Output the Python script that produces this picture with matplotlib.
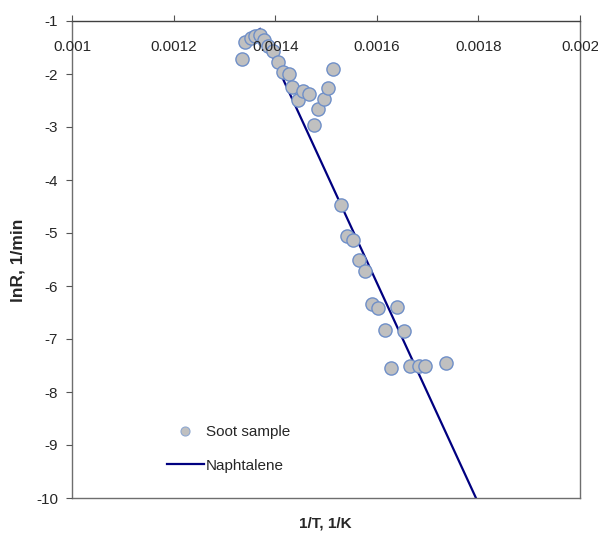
import matplotlib
matplotlib.use("Agg")
import matplotlib.pyplot as plt
from matplotlib.lines import Line2D

plt.rcParams['font.family'] = ['Liberation Sans', 'DejaVu Sans']

# Soot sample data (1/T in 1/K, lnR in 1/min)
soot_x = [0.0013346, 0.0013415, 0.0013514, 0.0013612, 0.0013701, 0.0013780,
          0.0013868, 0.0013947, 0.0014055, 0.0014144, 0.0014272, 0.0014331,
          0.0014449, 0.0014557, 0.0014665, 0.0014754, 0.0014852, 0.0014961,
          0.0015049, 0.0015138, 0.0015295, 0.0015404, 0.0015531, 0.0015640,
          0.0015758, 0.0015896, 0.0016033, 0.0016407, 0.0016152, 0.0016535,
          0.0016280, 0.0016663, 0.0016821, 0.0016949, 0.0017362]
soot_y = [-1.726, -1.396, -1.321, -1.274, -1.264, -1.358,
          -1.472, -1.575, -1.774, -1.953, -1.991, -2.236,
          -2.491, -2.330, -2.377, -2.962, -2.651, -2.481,
          -2.255, -1.915, -4.472, -5.066, -5.123, -5.509,
          -5.726, -6.349, -6.415, -6.387, -6.821, -6.840,
          -7.547, -7.509, -7.509, -7.509, -7.462]

# Naphtalene reference line
naph_x = [0.00137, 0.0018]
naph_y = [-1.15, -10.10]

x_ticks = [0.001, 0.0012, 0.0014, 0.0016, 0.0018, 0.002]
x_tick_labels = ['0.001', '0.0012', '0.0014', '0.0016', '0.0018', '0.002']
y_ticks = [-1, -2, -3, -4, -5, -6, -7, -8, -9, -10]

fig = plt.figure(figsize=(5.98, 5.39), dpi=100)
ax = fig.add_axes([72/598, 1-498/539, 508/598, 477/539])
ax.set_axisbelow(False)

ax.plot(naph_x, naph_y, color='#000080', lw=1.6, zorder=2.0, label='Naphtalene')
ax.plot(soot_x, soot_y, ls='none', marker='o', ms=9.5, mfc='#c0c0c0',
        mec='#6f8fc8', mew=1.0, zorder=2.2, label='Soot sample')

ax.set_xlim(0.001, 0.002)
ax.set_ylim(-10, -1)
ax.set_xticks(x_ticks)
ax.set_xticklabels(x_tick_labels)
ax.set_yticks(y_ticks)
ax.set_yticklabels([str(v) for v in y_ticks])

ax.xaxis.set_ticks_position('top')
ax.tick_params(axis='x', top=True, bottom=False, labeltop=True, labelbottom=False,
               direction='out', length=4, width=0.8, color='#555555',
               labelsize=11, labelcolor='#262626', pad=-28)
ax.tick_params(axis='y', left=True, right=False, direction='out', length=4,
               width=0.8, color='#555555', labelsize=11, labelcolor='#262626', pad=6)

for s in ['left', 'right', 'bottom']:
    ax.spines[s].set_color('#6e6e6e')
    ax.spines[s].set_linewidth(1.0)
ax.spines['top'].set_color('#404040')
ax.spines['top'].set_linewidth(1.0)

fig.text(325/598, 1-523/539, '1/T, 1/K', ha='center', va='center',
         fontsize=11, fontweight='bold', color='#262626')
fig.text(18/598, 1-260/539, 'lnR, 1/min', ha='center', va='center',
         rotation=90, fontsize=12.5, fontweight='bold', color='#262626')

handles = [Line2D([], [], ls='none', marker='o', ms=6.5, mfc='#c0c0c0',
                  mec='#8fa8d0', mew=0.8),
           Line2D([], [], color='#000080', lw=1.6)]
ax.legend(handles, ['Soot sample', 'Naphtalene'], loc='center left',
          bbox_to_anchor=((167-72)/508, (498-449)/477), frameon=False,
          fontsize=11, handlelength=2.4, handletextpad=0.15, labelspacing=1.25,
          borderpad=0, borderaxespad=0, labelcolor='#262626')

fig.savefig('out.png', dpi=100)
